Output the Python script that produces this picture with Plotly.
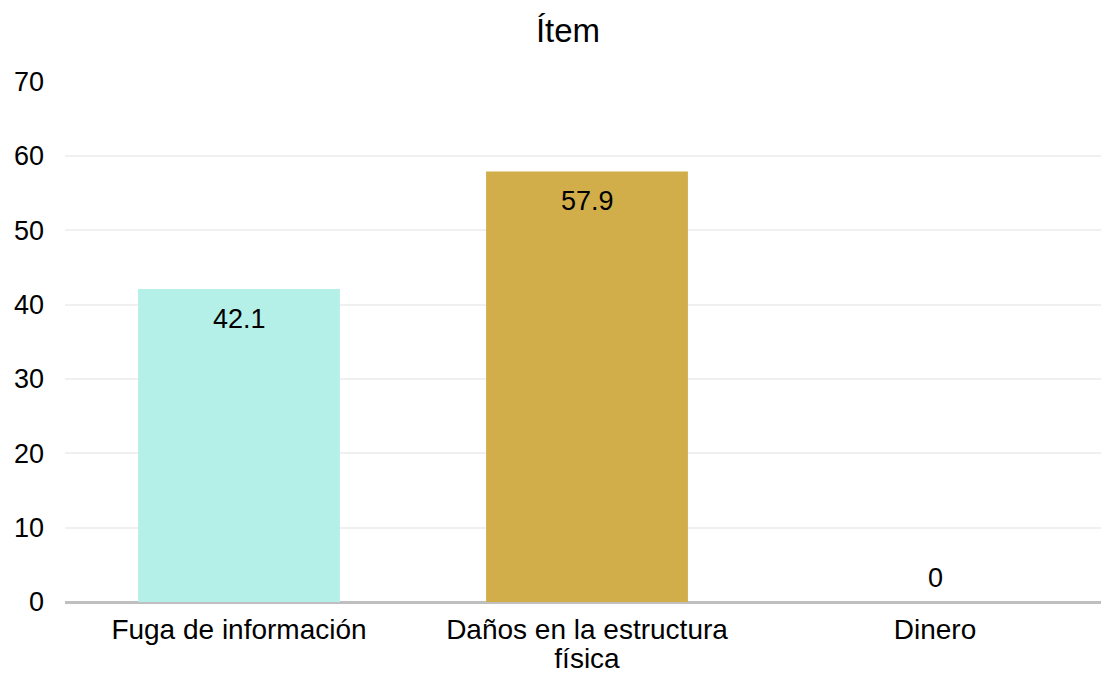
import plotly.graph_objects as go

categories = ["Fuga de información", "Daños en la estructura<br>física", "Dinero"]
values = [42.1, 57.9, 0]
bar_colors = ["#b4f0e7", "#d2ae4b", "#9dc3e6"]
y_ticks = [0, 10, 20, 30, 40, 50, 60, 70]

FONT = "Liberation Sans, Arial, sans-serif"

# page body has an 8px default margin; figure size compensates for it
W, H = 1101, 669

fig = go.Figure()
fig.add_trace(go.Bar(
    x=categories,
    y=values,
    marker=dict(color=bar_colors, line=dict(width=0)),
    hoverinfo="x+y",
))

# value labels
for c, v in zip(categories, values):
    fig.add_annotation(
        x=c, y=v, xref="x", yref="y",
        text=f"{v:g}",
        showarrow=False,
        yanchor="middle",
        yshift=(-30 if v > 0 else 24),
        font=dict(family=FONT, size=27, color="#000000"),
    )

# category tick labels: larger glyphs inside a smaller base font size so the
# wrapped lines sit closer together, as in the reference
tick_text = ["<br>".join(f'<span style="font-size:28px">{ln}</span>'
                         for ln in c.split("<br>")) for c in categories]

fig.update_layout(
    width=W, height=H,
    margin=dict(l=57, r=0, t=73, b=75),
    paper_bgcolor="white",
    plot_bgcolor="white",
    showlegend=False,
    bargap=0.42,
    font=dict(family=FONT, size=27, color="#000000"),
    title=dict(
        text="Ítem",
        x=560 / W, xref="container", xanchor="center",
        y=1 - 22 / H, yref="container", yanchor="middle",
        font=dict(family=FONT, size=33, color="#000000"),
    ),
    xaxis=dict(
        tickvals=categories,
        ticktext=tick_text,
        showgrid=False,
        showline=False,
        zeroline=False,
        ticks="",
        automargin=False,
        ticklabelstandoff=14,
        tickfont=dict(family=FONT, size=22, color="#000000"),
    ),
    yaxis=dict(
        range=[0, 70.06],
        tickvals=y_ticks,
        showgrid=True,
        gridcolor="#f0f0f0",
        gridwidth=2,
        zeroline=True,
        zerolinecolor="#bfbfbf",
        zerolinewidth=3,
        showline=False,
        ticks="",
        automargin=False,
        ticklabelstandoff=20,
        tickfont=dict(family=FONT, size=27, color="#000000"),
    ),
)

fig.write_html("out.html")
